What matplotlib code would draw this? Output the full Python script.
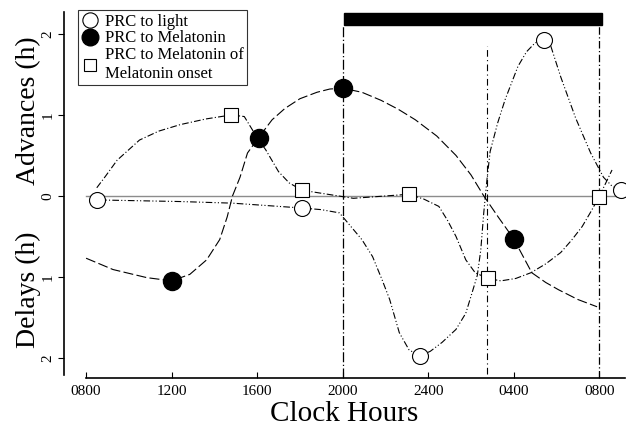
import matplotlib
matplotlib.use('Agg')
import matplotlib.pyplot as plt
from matplotlib.lines import Line2D
from matplotlib.patches import Rectangle

plt.rcParams['font.family'] = ['Liberation Serif', 'DejaVu Serif']

# clock hours, 8 = 0800 day 1, 32 = 0800 next day
tick_pos = [8, 12, 16, 20, 24, 28, 32]
tick_lab = ['0800', '1200', '1600', '2000', '2400', '0400', '0800']
ytick_pos = [2, 1, 0, -1, -2]
ytick_lab = ['2', '1', '0', '1', '2']

# PRC to light (open circles)
light_x = [8.5, 18.1, 23.6, 29.4, 33.0]
light_y = [-0.05, -0.15, -1.98, 1.93, 0.07]
light_cx = [8.5, 12.4, 14.85, 18.1, 19.0, 19.85, 20.9, 21.4, 21.85, 22.2, 22.65,
            23.1, 23.6, 24.1, 24.65, 25.3, 25.76, 26.05, 26.3, 26.46, 26.6, 26.75,
            26.9, 27.25, 27.6, 28.2, 28.6, 29.0, 29.4, 29.7, 30.2, 30.9, 31.6,
            32.2, 32.6, 33.0]
light_cy = [-0.05, -0.07, -0.09, -0.15, -0.17, -0.21, -0.54, -0.75, -1.04, -1.28,
            -1.69, -1.9, -1.98, -1.92, -1.81, -1.65, -1.45, -1.2, -0.98, -0.67,
            -0.21, 0.2, 0.55, 0.9, 1.19, 1.6, 1.78, 1.89, 1.93, 1.88, 1.47, 0.96,
            0.53, 0.23, 0.12, 0.07]

# PRC to melatonin (filled circles)
mel_x = [12.0, 16.07, 20.0, 28.0]
mel_y = [-1.05, 0.72, 1.33, -0.53]
mel_cx = [8.0, 9.26, 10.84, 12.0, 12.85, 13.64, 14.25, 14.6, 14.85, 15.2, 15.55,
          16.07, 16.7, 17.3, 18.0, 18.8, 19.4, 20.0, 20.9, 21.8, 22.6, 23.4,
          24.4, 25.3, 26.0, 26.6, 27.3, 28.0, 28.85, 29.5, 30.1, 31.0, 31.9]
mel_cy = [-0.77, -0.91, -1.01, -1.05, -0.97, -0.79, -0.54, -0.26, 0.0, 0.23,
          0.53, 0.72, 0.94, 1.08, 1.2, 1.28, 1.32, 1.33, 1.28, 1.18, 1.07, 0.94,
          0.74, 0.5, 0.26, 0.0, -0.27, -0.53, -0.95, -1.07, -1.16, -1.28, -1.37]

# PRC to melatonin of melatonin onset (open squares)
onset_x = [14.8, 18.1, 23.1, 26.8, 32.0]
onset_y = [1.0, 0.07, 0.02, -1.02, -0.01]
onset_cx = [8.5, 8.9, 9.45, 10.5, 11.4, 12.4, 13.6, 14.8, 15.4, 15.7, 16.0, 16.4,
            17.0, 17.5, 18.1, 20.5, 23.1, 23.8, 24.5, 24.9, 25.3, 25.76, 26.2,
            26.8, 27.4, 28.1, 28.8, 29.5, 30.2, 30.7, 31.2, 31.6, 32.0, 32.6]
onset_cy = [0.1, 0.24, 0.44, 0.69, 0.8, 0.88, 0.95, 1.0, 0.98, 0.85, 0.72, 0.57,
            0.3, 0.16, 0.07, -0.03, 0.02, -0.04, -0.13, -0.3, -0.5, -0.79, -0.95,
            -1.02, -1.05, -1.02, -0.95, -0.84, -0.7, -0.55, -0.38, -0.2, -0.01, 0.32]

fig = plt.figure(figsize=(6.28, 4.33), dpi=100)
ax = fig.add_axes([0.102, 0.127, 0.893, 0.845])

ax.plot([8, 33.2], [0, 0], color='0.55', lw=1.0, zorder=1)

# dark period bar and its borders
ax.add_patch(Rectangle((20.05, 2.11), 12.1, 0.15, color='black', zorder=3))
ax.plot([20.0, 20.0], [-2.25, 2.11], color='black', lw=0.9, ls=(0, (8, 2, 1, 2)))
ax.plot([32.0, 32.0], [-2.25, 2.11], color='black', lw=0.9, ls=(0, (6, 2, 1, 2)))
ax.plot([26.75, 26.75], [-2.2, 1.85], color='black', lw=0.8, ls=(0, (6, 3, 1, 3)))

ax.plot(light_cx, light_cy, color='black', lw=0.8, ls=(0, (6, 2, 1, 2, 1, 2)), zorder=2)
ax.plot(mel_cx, mel_cy, color='black', lw=0.8, ls=(0, (9, 3)), zorder=2)
ax.plot(onset_cx, onset_cy, color='black', lw=0.8, ls=(0, (6, 2, 1, 2)), zorder=2)

ax.plot(light_x, light_y, 'o', ms=11.5, mfc='white', mec='black', mew=0.8, ls='none', zorder=4)
ax.plot(mel_x, mel_y, 'o', ms=13, mfc='black', mec='black', ls='none', zorder=4)
ax.plot(onset_x, onset_y, 's', ms=9.5, mfc='white', mec='black', mew=0.8, ls='none', zorder=4)

ax.set_xlim(6.97, 33.2)
ax.set_ylim(-2.25, 2.27)
ax.spines['top'].set_visible(False)
ax.spines['right'].set_visible(False)
ax.spines['bottom'].set_bounds(8, 33.2)
ax.spines['left'].set_bounds(-2.21, 2.27)
ax.spines['bottom'].set_linewidth(1.2)
ax.spines['left'].set_linewidth(1.2)

ax.set_xticks(tick_pos)
ax.set_xticklabels(tick_lab, fontsize=11)
ax.set_yticks(ytick_pos)
ax.set_yticklabels(ytick_lab, fontsize=11, rotation=90, va='center')
ax.tick_params(axis='x', direction='in', length=4, pad=5)
ax.tick_params(axis='y', direction='out', length=4, pad=3)

ax.set_xlabel('Clock Hours', fontsize=21, labelpad=2)
fig.text(0.045, 0.745, 'Advances (h)', fontsize=20, rotation=90, ha='center', va='center')
fig.text(0.045, 0.33, 'Delays (h)', fontsize=20, rotation=90, ha='center', va='center')

handles = [
    Line2D([], [], marker='o', ms=11, mfc='white', mec='black', mew=0.8, ls='none'),
    Line2D([], [], marker='o', ms=12, mfc='black', mec='black', ls='none'),
    Line2D([], [], marker='s', ms=9, mfc='white', mec='black', mew=0.8, ls='none'),
]
labels = ['PRC to light', 'PRC to Melatonin', 'PRC to Melatonin of\nMelatonin onset']
leg = ax.legend(handles, labels, loc='upper left', bbox_to_anchor=(0.025, 1.005),
                borderaxespad=0, fontsize=12, frameon=True, fancybox=False,
                handlelength=1.0, handletextpad=0.4, borderpad=0.2, labelspacing=0.05)
leg.get_frame().set_edgecolor('black')
leg.get_frame().set_linewidth(0.8)

fig.savefig('out.png', dpi=100)
